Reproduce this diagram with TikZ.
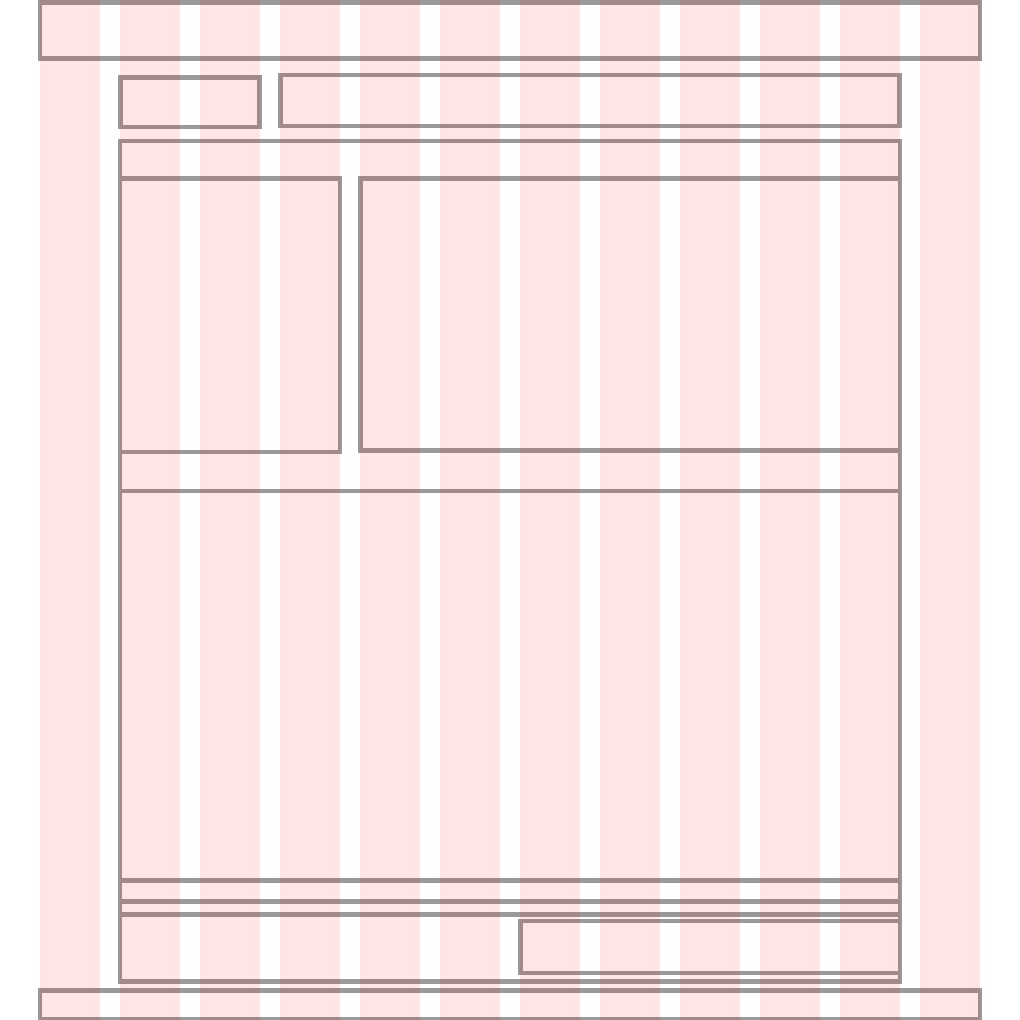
\documentclass[tikz,border=0pt]{standalone}
\begin{document}
\begin{tikzpicture}[x=1pt,y=-1pt,
  wire/.style={draw=black!40, line width=4.5pt, line join=miter},
  gridcol/.style={fill=red, fill opacity=0.1, draw=none}]
\useasboundingbox (0,0) rectangle (1020,1020);
\fill[white] (0,0) rectangle (1020,1020);
% header and footer
\draw[wire] (40,2.5) rectangle (980,58.5);
\draw[wire] (40,990.5) rectangle (980,1019);
% top bar
\draw[wire] (120.5,77.5) rectangle (259.5,127);
\draw[wire] (280.5,75) rectangle (899.5,126);
% main column
\draw[wire] (120,141) rectangle (900,981.5);
\draw[wire] (120,178.5) rectangle (340,452);
\draw[wire] (360.5,178.5) rectangle (900,450.5);
\draw[wire] (120,491) -- (900,491);
\draw[wire] (120,880.5) -- (900,880.5);
\draw[wire] (120,901.5) -- (900,901.5);
\draw[wire] (120,914.5) -- (900,914.5);
\draw[wire] (520.5,921) rectangle (900,973);
% grid columns
\foreach \i in {0,...,11} {
  \path[gridcol] ({40+80*\i},0) rectangle ({100+80*\i},1020);
}
\end{tikzpicture}
\end{document}
